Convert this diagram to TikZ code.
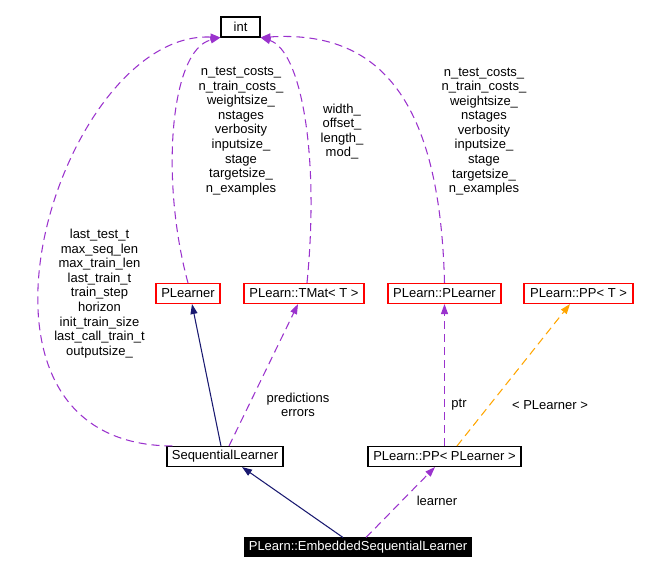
\documentclass[tikz,border=0pt]{standalone}
\usepackage{fontspec}
\setmainfont{Liberation Sans}
\usetikzlibrary{arrows.meta}
\definecolor{edgepurple}{HTML}{9A32CD}
\definecolor{edgenavy}{HTML}{191970}
\definecolor{edgeorange}{HTML}{FFA500}

\begin{document}
\begin{tikzpicture}[>={Triangle[length=0.2cm, width=0.14cm]}, font=\fontsize{7.4pt}{8.3pt}\selectfont,
  cls/.style={draw, line width=0.6pt, minimum height=0.4cm, inner sep=1pt},
  tpl/.style={cls, draw=red},
  usage/.style={->, edgepurple, line width=0.6pt, dash pattern=on 0.16cm off 0.1cm},
  inherit/.style={->, edgenavy, line width=0.6pt},
  inst/.style={->, edgeorange, line width=0.6pt, dash pattern=on 0.16cm off 0.1cm},
  lbl/.style={align=center, inner sep=0pt}]
  \useasboundingbox (0,0) rectangle (13.4,11.48);
  \node[cls, minimum width=0.78cm] (int) at (4.81,10.94) {int};
  \node[tpl, minimum width=1.28cm] (plearner) at (3.76,5.61) {PLearner};
  \node[tpl, minimum width=2.40cm] (tmat) at (6.08,5.61) {PLearn::TMat< T >};
  \node[tpl, minimum width=2.26cm] (plplearner) at (8.89,5.61) {PLearn::PLearner};
  \node[tpl, minimum width=2.18cm] (ppt) at (11.57,5.61) {PLearn::PP< T >};
  \node[cls, minimum width=2.32cm] (seqlearner) at (4.50,2.35) {SequentialLearner};
  \node[cls, minimum width=3.06cm] (pplearner) at (8.89,2.35) {PLearn::PP< PLearner >};
  \node[cls, fill=black, text=white, minimum width=4.52cm, minimum height=0.36cm] (embedded) at (7.16,0.54) {PLearn::EmbeddedSequentialLearner};
  % inheritance
  \draw[inherit] ([xshift=-0.08cm]seqlearner.north) -- ([xshift=0.08cm]plearner.south);
  \draw[inherit] ([xshift=-0.30cm]embedded.north) -- ([xshift=0.34cm]seqlearner.south);
  % usage
  \draw[usage] ([xshift=0.16cm]embedded.north) -- ([xshift=-0.19cm]pplearner.south);
  \draw[usage] (pplearner) -- (plplearner);
  \draw[inst] ([xshift=0.25cm]pplearner.north) -- ([xshift=-0.17cm]ppt.south);
  \draw[usage] ([xshift=0.08cm]seqlearner.north) -- ([xshift=-0.12cm]tmat.south);
  \draw[usage] ([xshift=0.12cm]seqlearner.north west) .. controls (-1.40,2.58) and (1.20,10.88) .. (int.south west);
  \draw[usage] (plearner.north) .. controls (3.20,7.88) and (3.40,10.48) .. (int.south west);
  \draw[usage] ([xshift=0.06cm]tmat.north) .. controls (6.40,8.48) and (6.00,10.48) .. (int.south east);
  \draw[usage] (plplearner.north) .. controls (8.80,9.48) and (7.60,10.88) .. (int.south east);
  % labels
  \node[lbl] (lbl-learner) at (8.74,1.46) {learner};
  \node[lbl] (lbl-ptr) at (9.18,3.38) {ptr};
  \node[lbl] (lbl-ppt) at (11.00,3.38) {< PLearner >};
  \node[lbl] (lbl-tmat-seq) at (5.96,3.38) {predictions\\errors};
  \node[lbl] (lbl-seq) at (1.99,5.61) {last\_test\_t\\max\_seq\_len\\max\_train\_len\\last\_train\_t\\train\_step\\horizon\\init\_train\_size\\last\_call\_train\_t\\outputsize\_};
  \node[lbl] (lbl-plearner) at (4.82,8.86) {n\_test\_costs\_\\n\_train\_costs\_\\weightsize\_\\nstages\\verbosity\\inputsize\_\\stage\\targetsize\_\\n\_examples};
  \node[lbl] (lbl-tmat) at (6.84,8.85) {width\_\\offset\_\\length\_\\mod\_};
  \node[lbl] (lbl-plplearner) at (9.68,8.85) {n\_test\_costs\_\\n\_train\_costs\_\\weightsize\_\\nstages\\verbosity\\inputsize\_\\stage\\targetsize\_\\n\_examples};
\end{tikzpicture}
\end{document}
